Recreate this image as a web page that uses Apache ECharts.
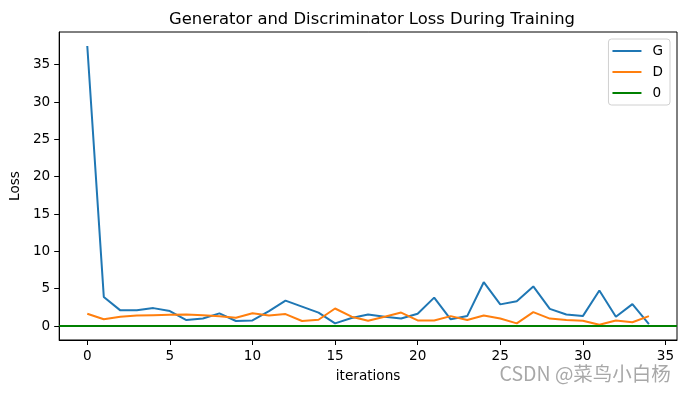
<!DOCTYPE html>
<html>
<head>
<meta charset="utf-8">
<script src="https://cdn.jsdelivr.net/npm/echarts@6/dist/echarts.min.js"></script>
<style>
html,body{margin:0;padding:0;background:#fff;}
#chart{width:686px;height:393px;}
</style>
</head>
<body>
<div id="chart"></div>
<script>
const iterations = [0,1,2,3,4,5,6,7,8,9,10,11,12,13,14,15,16,17,18,19,20,21,22,23,24,25,26,27,28,29,30,31,32,33,34];
const lossG = [37.5,3.9,2.1,2.1,2.4,2.0,0.8,1.0,1.7,0.67,0.75,2.0,3.4,2.6,1.8,0.36,1.07,1.55,1.25,1.0,1.64,3.8,0.9,1.33,5.87,2.9,3.33,5.3,2.3,1.55,1.33,4.75,1.25,2.93,0.27];
const lossD = [1.64,0.9,1.25,1.4,1.45,1.5,1.55,1.45,1.3,1.1,1.7,1.4,1.6,0.67,0.84,2.35,1.25,0.7,1.25,1.8,0.75,0.75,1.33,0.8,1.42,1.0,0.36,1.87,1.0,0.8,0.7,0.18,0.75,0.5,1.33];
const zeroLine = 0;
const xTicks = [0,5,10,15,20,25,30,35];
const yTicks = [0,5,10,15,20,25,30,35];
const seriesNames = ['G','D','0'];

const FONT = 'DejaVu Sans';
const chart = echarts.init(document.getElementById('chart'), null, {renderer:'canvas'});
const pairs = (ys) => iterations.map((x,i)=>[x, ys[i]]);

chart.setOption({
  animation:false,
  backgroundColor:'#fff',
  title:{
    text:'Generator and Discriminator Loss During Training',
    left:367, textAlign:'center', top:7,
    textStyle:{fontFamily:FONT,fontSize:16.4,fontWeight:'normal',color:'#000'}
  },
  grid:{left:57,right:9,top:32,bottom:53,show:true,borderColor:'#000',borderWidth:1,backgroundColor:'transparent'},
  legend:{
    orient:'vertical', right:16, top:39,
    data:seriesNames,
    icon:'rect', itemWidth:29, itemHeight:2, itemGap:5,
    padding:[4,7,4,4],
    backgroundColor:'#fff', borderColor:'#d0d0d0', borderWidth:1, borderRadius:3,
    textStyle:{fontFamily:FONT,fontSize:13.6,color:'#000',lineHeight:16,padding:[0,0,0,6]}
  },
  xAxis:{
    type:'value', min:-1.7, max:35.7,
    name:'iterations', nameLocation:'middle', nameGap:29,
    nameTextStyle:{fontFamily:FONT,fontSize:13.6,color:'#000'},
    splitLine:{show:false},
    axisLine:{show:true,onZero:false,lineStyle:{color:'#000',width:1}},
    axisTick:{show:true,length:5,lineStyle:{color:'#000'},customValues:xTicks},
    axisLabel:{fontFamily:FONT,fontSize:13.6,color:'#000',margin:9,customValues:xTicks}
  },
  yAxis:{
    type:'value', min:-1.87, max:39.37,
    name:'Loss', nameLocation:'middle', nameGap:35, nameRotate:90,
    nameTextStyle:{fontFamily:FONT,fontSize:13.6,color:'#000'},
    splitLine:{show:false},
    axisLine:{show:true,onZero:false,lineStyle:{color:'#000',width:1}},
    axisTick:{show:true,length:5,lineStyle:{color:'#000'},customValues:yTicks},
    axisLabel:{fontFamily:FONT,fontSize:13.6,color:'#000',margin:9,customValues:yTicks}
  },
  series:[
    {name:'G',type:'line',data:pairs(lossG),symbol:'none',color:'#1f77b4',lineStyle:{width:2,color:'#1f77b4'},z:2},
    {name:'D',type:'line',data:pairs(lossD),symbol:'none',color:'#ff7f0e',lineStyle:{width:2,color:'#ff7f0e'},z:3},
    {name:'0',type:'line',data:[],symbol:'none',color:'#008000',lineStyle:{width:2,color:'#008000'},z:4,
     markLine:{silent:true,symbol:'none',label:{show:false},lineStyle:{color:'#008000',width:2,type:'solid'},data:[{yAxis:zeroLine}]}}
  ],
  graphic:[{
    type:'text', left:499, top:363, z:100,
    style:{text:'CSDN @菜鸟小白杨', fontFamily:'Noto Sans CJK SC', fontSize:19.5, fill:'#a8a8a8', stroke:'#fff', lineWidth:1}
  }]
});
</script>
</body>
</html>
